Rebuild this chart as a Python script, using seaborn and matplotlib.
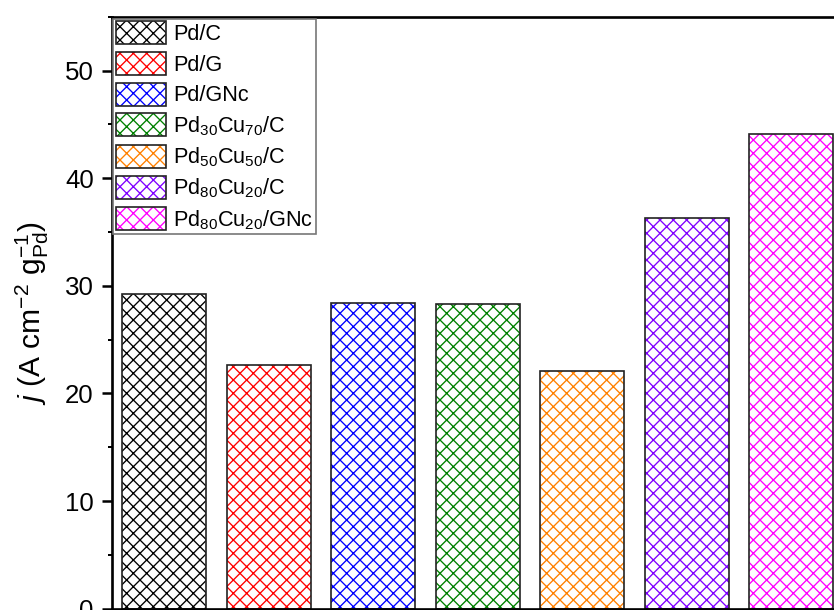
import matplotlib
matplotlib.use("Agg")
import matplotlib.pyplot as plt
import seaborn as sns
import pandas as pd
from matplotlib.patches import Patch
from matplotlib.ticker import MultipleLocator

# data
catalysts = ["Pd/C", "Pd/G", "Pd/GNc", "Pd$_{30}$Cu$_{70}$/C", "Pd$_{50}$Cu$_{50}$/C",
             "Pd$_{80}$Cu$_{20}$/C", "Pd$_{80}$Cu$_{20}$/GNc"]
current = [29.2, 22.6, 28.4, 28.3, 22.1, 36.3, 44.1]
colors = ["#000000", "#FF0000", "#0000FF", "#008000", "#FF8000", "#8000FF", "#FF00FF"]

sns.set_style("ticks")
plt.rcParams["font.family"] = ["Liberation Sans", "DejaVu Sans"]
plt.rcParams["mathtext.fontset"] = "custom"
plt.rcParams["mathtext.rm"] = "Liberation Sans"
plt.rcParams["mathtext.it"] = "Liberation Sans:italic"
plt.rcParams["hatch.linewidth"] = 0.8
plt.rcParams["text.color"] = "black"
plt.rcParams["axes.labelcolor"] = "black"
plt.rcParams["ytick.color"] = "black"

df = pd.DataFrame({"cat": catalysts, "j": current})

dpi = 120
fig = plt.figure(figsize=(834 / dpi, 610 / dpi), dpi=dpi)
ax = fig.add_axes([112 / 834, 1.3 / 610, 731.5 / 834, 592 / 610])

# hatched fill, hatch colored by catalyst
sns.barplot(data=df, x="cat", y="j", hue="cat", palette=colors, legend=False,
            width=0.8, ax=ax)
for p, c in zip(ax.patches, colors):
    p.set_facecolor("white")
    p.set_edgecolor(c)
    p.set_hatch("xxx")
    p.set_linewidth(0)
# black outlines on top
sns.barplot(data=df, x="cat", y="j", fill=False, color="black", width=0.8,
            linewidth=1.0, ax=ax, errorbar=None)
for p in ax.patches[len(colors):]:
    p.set_edgecolor("#222222")

ax.set_xlim(-0.5, 6.5)
ax.set_ylim(0, 55)
ax.yaxis.set_major_locator(MultipleLocator(10))
ax.yaxis.set_minor_locator(MultipleLocator(5))
ax.set_xticks([])
ax.set_xlabel("")
ax.set_ylabel(r"$j$ (A cm$^{-2}$ g$_{\rm Pd}^{-1}$)", fontsize=18, labelpad=8)
ax.tick_params(axis="y", which="major", length=6, width=1.5, labelsize=15.5,
               direction="out", pad=5)
ax.tick_params(axis="y", which="minor", length=2.5, width=1.2, direction="out")
for s in ax.spines.values():
    s.set_visible(True)
    s.set_linewidth(1.6)
    s.set_color("black")

handles = [Patch(facecolor="white", edgecolor=c, hatch="xxx", linewidth=0) for c in colors]
outline = [Patch(facecolor="none", edgecolor="#222222", linewidth=1.0) for c in colors]
leg = ax.legend([(h, o) for h, o in zip(handles, outline)], catalysts,
                loc="upper left", bbox_to_anchor=(0.0015, 0.9965), borderaxespad=0,
                fontsize=13, handlelength=2.3, handleheight=1.25, handletextpad=0.35,
                labelspacing=0.32, borderpad=0.12, fancybox=False, framealpha=1,
                edgecolor="#777777")
leg.get_frame().set_linewidth(1.0)

fig.savefig("out.png", dpi=dpi)
